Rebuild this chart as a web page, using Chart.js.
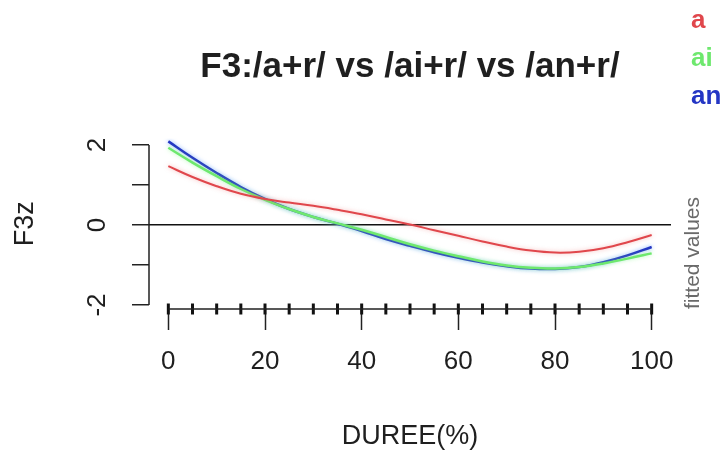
<!DOCTYPE html>
<html>
<head>
<meta charset="utf-8">
<script src="https://cdn.jsdelivr.net/npm/chart.js@4.4.1/dist/chart.umd.min.js"></script>
<style>
  html, body { margin: 0; padding: 0; background: #fff; }
  canvas { display: block; }
</style>
</head>
<body>
<canvas id="gamChart" width="721" height="457"></canvas>
<script>
// fitted GAM curves, F3z vs DUREE(%)
const duree = [0, 5, 10, 15, 20, 25, 30, 35, 40, 45, 50, 55, 60, 65, 70, 75, 80, 85, 90, 95, 100];
const fitA  = [1.47, 1.20, 0.97, 0.78, 0.65, 0.56, 0.48, 0.38, 0.27, 0.14, 0.01, -0.13, -0.27, -0.41, -0.54, -0.64, -0.69, -0.67, -0.58, -0.43, -0.25];
const fitAi = [1.93, 1.56, 1.22, 0.90, 0.63, 0.40, 0.20, 0.04, -0.12, -0.30, -0.48, -0.64, -0.78, -0.91, -1.01, -1.07, -1.09, -1.05, -0.96, -0.84, -0.71];
const fitAn = [2.09, 1.68, 1.30, 0.95, 0.65, 0.40, 0.20, 0.03, -0.15, -0.35, -0.52, -0.68, -0.82, -0.94, -1.03, -1.09, -1.10, -1.05, -0.93, -0.76, -0.55];
const rugX = [0, 5, 10, 15, 20, 25, 30, 35, 40, 45, 50, 55, 60, 65, 70, 75, 80, 85, 90, 95, 100];
const xTicks = [0, 20, 40, 60, 80, 100];
const yTicks = [-2, -1, 0, 1, 2];
const yLabels = ['-2', '', '0', '', '2'];
const seriesNames = ['a', 'ai', 'an'];

const lineColors = ['#e0474c', '#6ee86e', '#2436c4'];
const glowColors = ['rgba(240,120,120,0.5)', 'rgba(140,250,140,0.6)', 'rgba(90,150,255,0.7)'];
const textColor = '#1f1f1f';
const FONT = '"Liberation Sans", Arial, sans-serif';
const X_MIN = -4, X_MAX = 104, Y_MIN = -2.1, Y_MAX = 2.16;

const pts = ys => duree.map((x, i) => ({ x: x, y: ys[i] }));

// soft halo round the fitted lines
const glowPlugin = {
  id: 'glow',
  beforeDatasetDraw(chart, args) {
    const ds = chart.data.datasets[args.index];
    chart.ctx.save();
    if (ds.glow) {
      chart.ctx.shadowColor = ds.glow;
      chart.ctx.shadowBlur = 4;
    }
  },
  afterDatasetDraw(chart) {
    chart.ctx.restore();
  }
};

// R style axis lines (first to last tick), legend text, side label
const extrasPlugin = {
  id: 'extras',
  afterDraw(chart) {
    const ctx = chart.ctx;
    const xs = chart.scales.x, ys = chart.scales.y;
    const area = chart.chartArea;
    ctx.save();
    ctx.strokeStyle = '#222';
    ctx.lineWidth = 1.5;
    ctx.beginPath();
    ctx.moveTo(xs.getPixelForValue(xTicks[0]), area.bottom);
    ctx.lineTo(xs.getPixelForValue(xTicks[xTicks.length - 1]), area.bottom);
    ctx.moveTo(area.left, ys.getPixelForValue(yTicks[0]));
    ctx.lineTo(area.left, ys.getPixelForValue(yTicks[yTicks.length - 1]));
    ctx.stroke();

    ctx.font = 'bold 26px ' + FONT;
    ctx.textAlign = 'left';
    ctx.textBaseline = 'middle';
    seriesNames.forEach((name, i) => {
      ctx.fillStyle = lineColors[i];
      ctx.fillText(name, 691, 21 + i * 38);
    });

    ctx.translate(693, 253);
    ctx.rotate(-Math.PI / 2);
    ctx.font = '21px ' + FONT;
    ctx.fillStyle = '#6a6a6a';
    ctx.textAlign = 'center';
    ctx.fillText('fitted values', 0, 0);
    ctx.restore();
  }
};

const ctx = document.getElementById('gamChart').getContext('2d');
new Chart(ctx, {
  type: 'line',
  data: {
    datasets: [
      {
        label: 'rug',
        data: rugX.map(x => ({ x: x, y: Y_MIN })),
        showLine: false,
        pointStyle: 'line',
        rotation: 90,
        pointRadius: 5.5,
        pointBorderWidth: 3,
        borderColor: '#111',
        clip: false
      },
      {
        label: seriesNames[0],
        data: pts(fitA),
        borderColor: lineColors[0],
        glow: glowColors[0],
        borderWidth: 2,
        tension: 0.4,
        pointRadius: 0
      },
      {
        label: seriesNames[1],
        data: pts(fitAi),
        borderColor: lineColors[1],
        glow: glowColors[1],
        borderWidth: 2.5,
        tension: 0.4,
        pointRadius: 0
      },
      {
        label: seriesNames[2],
        data: pts(fitAn),
        borderColor: lineColors[2],
        glow: glowColors[2],
        borderWidth: 2.5,
        tension: 0.4,
        pointRadius: 0
      }
    ]
  },
  options: {
    responsive: false,
    animation: false,
    events: [],
    layout: { padding: { top: 0, right: 50, bottom: 0, left: 0 } },
    plugins: {
      legend: { display: false },
      tooltip: { enabled: false },
      title: {
        display: true,
        text: 'F3:/a+r/ vs /ai+r/ vs /an+r/',
        fullSize: false,
        color: textColor,
        font: { family: FONT, size: 35, weight: 'bold' },
        padding: { top: 46, bottom: 50.6 }
      }
    },
    scales: {
      x: {
        type: 'linear',
        min: X_MIN,
        max: X_MAX,
        afterBuildTicks: s => { s.ticks = xTicks.map(v => ({ value: v })); },
        afterFit: s => { s.height = 148; },
        border: { display: false },
        grid: { drawOnChartArea: false, tickLength: 21, tickColor: '#222', tickWidth: 1.5 },
        ticks: {
          autoSkip: false,
          maxRotation: 0,
          padding: 16,
          color: textColor,
          font: { family: FONT, size: 26 }
        },
        title: {
          display: true,
          text: 'DUREE(%)',
          color: textColor,
          font: { family: FONT, size: 27 },
          padding: { top: 0, bottom: 4 }
        }
      },
      y: {
        type: 'linear',
        min: Y_MIN,
        max: Y_MAX,
        afterBuildTicks: s => { s.ticks = yTicks.map(v => ({ value: v })); },
        afterFit: s => { s.width = 149; },
        border: { display: false },
        grid: {
          drawOnChartArea: true,
          color: c => (c.tick && c.tick.value === 0 ? '#111' : 'rgba(0,0,0,0)'),
          lineWidth: 1.5,
          tickLength: 17,
          tickColor: '#222',
          tickWidth: 1.5
        },
        ticks: {
          autoSkip: false,
          minRotation: 90,
          maxRotation: 90,
          crossAlign: 'center',
          padding: 23,
          color: textColor,
          font: { family: FONT, size: 26 },
          callback: v => yLabels[yTicks.indexOf(v)]
        },
        title: {
          display: true,
          text: 'F3z',
          color: textColor,
          font: { family: FONT, size: 27 },
          padding: { top: 9, bottom: 0 }
        }
      }
    }
  },
  plugins: [glowPlugin, extrasPlugin]
});
</script>
</body>
</html>
